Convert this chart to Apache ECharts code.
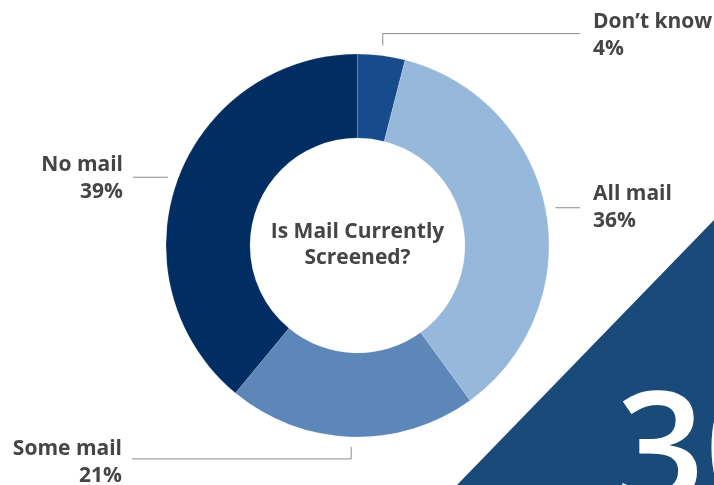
<!DOCTYPE html>
<html>
<head>
<meta charset="utf-8">
<style>
  html, body { margin: 0; padding: 0; background: #fff; }
  #chart { width: 714px; height: 485px; }
</style>
<script src="https://cdn.jsdelivr.net/npm/echarts@6/dist/echarts.min.js"></script>
</head>
<body>
<div id="chart"></div>
<script>
// Survey answers, clockwise from 12 o'clock.
const categories = ["Don’t know", "All mail", "Some mail", "No mail"]
const shares = [4, 36, 21, 39]
const centerTitle = ["Is Mail Currently", "Screened?"]
const cornerNumber = "30"

const SLICE_COLORS = ["#174b8c", "#96b9db", "#5e87b9", "#022d62"]
const LABEL_COLOR = "#454545"
const GUIDE_COLOR = "#8c8c8c"
const BAND_COLOR = "#1a4a7a"
const FONT = "'Open Sans', Lato, 'DejaVu Sans', sans-serif"

const CENTER = [357.5, 245.5]
const OUTER_R = 191.5
const INNER_R = 107.5
const LINE_GAP = 10

// Guide line per label: optional vertical leg off the ring, then horizontal to endX.
const GUIDES = [
  {leg: -12, endX: 580, labelX: 593, align: "left", dy: 2},
  {leg: 0, endX: 580, labelX: 593, align: "left", dy: 0},
  {leg: 12, endX: 132, labelX: 122, align: "right", dy: 4},
  {leg: 0, endX: 133, labelX: 123, align: "right", dy: 1},
]

const total = shares.reduce((a, b) => a + b, 0)

// mid angle of slice i, radians clockwise from 12 o'clock
const midAngle = (i) => {
  const before = shares.slice(0, i).reduce((a, b) => a + b, 0)
  return ((before + shares[i] / 2) / total) * 2 * Math.PI
}

const labelLayout = (params) => {
  const i = params.dataIndex
  const g = GUIDES[i]
  const a = midAngle(i)
  const r = OUTER_R + LINE_GAP
  const x0 = CENTER[0] + r * Math.sin(a)
  const y0 = CENTER[1] - r * Math.cos(a)
  const y1 = y0 + g.leg
  return {
    x: g.labelX,
    y: y1 + g.dy,
    align: g.align,
    verticalAlign: "middle",
    labelLinePoints: [[x0, y0], [x0, y1], [g.endX, y1]],
  }
}

const option = {
  animation: false,
  graphic: [
    {
      type: "polygon",
      z: 0,
      shape: {points: [[457, 485], [714, 220], [714, 485]]},
      style: {fill: BAND_COLOR},
    },
    {
      type: "text",
      z: 1,
      x: 616,
      y: 536,
      style: {
        text: cornerNumber,
        fill: "#fff",
        font: "600 155px " + FONT,
        textAlign: "left",
        textVerticalAlign: "bottom",
      },
    },
    {
      type: "text",
      z: 10,
      x: CENTER[0],
      y: CENTER[1],
      style: {
        text: centerTitle.join("\n"),
        fill: LABEL_COLOR,
        font: "bold 21px " + FONT,
        lineHeight: 26,
        textAlign: "center",
        textVerticalAlign: "middle",
      },
    },
  ],
  series: [
    {
      type: "pie",
      center: CENTER,
      radius: [INNER_R, OUTER_R],
      startAngle: 90,
      clockwise: true,
      avoidLabelOverlap: false,
      silent: true,
      data: categories.map((name, i) => ({
        name,
        value: shares[i],
        itemStyle: {color: SLICE_COLORS[i]},
      })),
      itemStyle: {borderColor: "rgba(255,255,255,0.3)", borderWidth: 0.5},
      label: {
        show: true,
        formatter: "{b}\n{c}%",
        color: LABEL_COLOR,
        fontFamily: FONT,
        fontWeight: "bold",
        fontSize: 21,
        lineHeight: 27,
      },
      labelLine: {show: true, length: 10, length2: 10, lineStyle: {color: GUIDE_COLOR, width: 1}},
      labelLayout,
    },
  ],
}

const chart = echarts.init(document.getElementById("chart"))
chart.setOption(option)
</script>
</body>
</html>
